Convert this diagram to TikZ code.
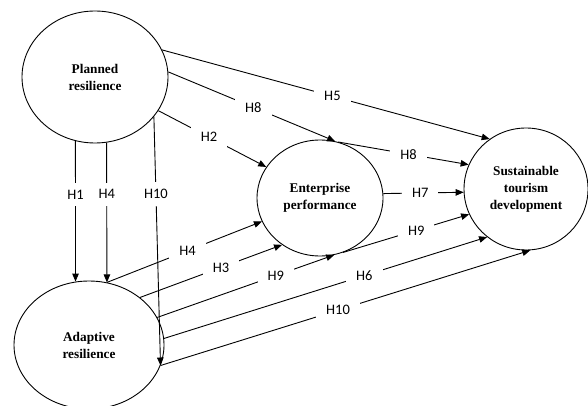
\documentclass[tikz,border=0pt]{standalone}
\usepackage{fontspec}
\setmainfont{Liberation Serif}
\newfontfamily\labfont{Carlito}
\usetikzlibrary{arrows.meta,shapes.geometric}
\begin{document}
\begin{tikzpicture}[x=1pt,y=-1pt,
 var/.style={draw, ellipse, line width=0.9pt, font=\fontsize{13.3}{17}\selectfont\bfseries, align=center, inner sep=0pt},
 hyp/.style={font=\labfont\fontsize{14.5}{14.5}\selectfont, fill=white, inner xsep=10pt, inner ysep=7pt},
 arr/.style={line width=0.9pt, -{Triangle[length=8pt,width=6.5pt]}}]
\useasboundingbox (0,0) rectangle (588,406);
\fill[white] (0,0) rectangle (588,406);

\node[var, minimum width=146pt, minimum height=132pt] (P) at (95,77) {Planned\\resilience};
\node[var, minimum width=150pt, minimum height=128pt] (A) at (89,345) {Adaptive\\resilience};
\node[var, minimum width=126pt, minimum height=116pt] (E) at (320,198) {Enterprise\\performance};
\node[var, minimum width=124pt, minimum height=122pt] (S) at (526,189) {Sustainable\\tourism\\development};

% from Planned resilience
\draw[arr] (P.-107) -- node[hyp, pos=.38] {H1} (A.102);
\draw[arr] (P.-80) -- node[hyp, pos=.37] {H4} (A.74);
\draw[arr] (P.-34) -- node[hyp, pos=.31] {H10} (A.-16);
\draw[arr] (P.22) -- node[hyp, pos=.52] {H5} (S.126);
\draw[arr] (P.4) -- node[hyp, pos=.51] {H8} (E.75);
\draw[arr] (P.-28) -- node[hyp, pos=.47] {H2} (E.150);

% Enterprise performance to Sustainable
\draw[arr] (E.72) -- node[hyp, pos=.54] {H8} (S.157);
\draw[arr] (E.4) -- node[hyp, pos=.46] {H7} (S.183);
\draw[arr] (E.293) -- node[hyp, pos=.58] {H9} (S.204);

% from Adaptive resilience
\draw[arr] (A.74) -- node[hyp, pos=.52] {H4} (E.202);
\draw[arr] (A.43) -- node[hyp, pos=.57] {H3} (E.231);
\draw[arr] (A.22) -- node[hyp, pos=.67] {H9} (E.284);
\draw[arr] (A.5) -- node[hyp, pos=.62] {H6} (S.231);
\draw[arr] (A.-16) -- node[hyp, pos=.48] {H10} (S.274);
\end{tikzpicture}
\end{document}
